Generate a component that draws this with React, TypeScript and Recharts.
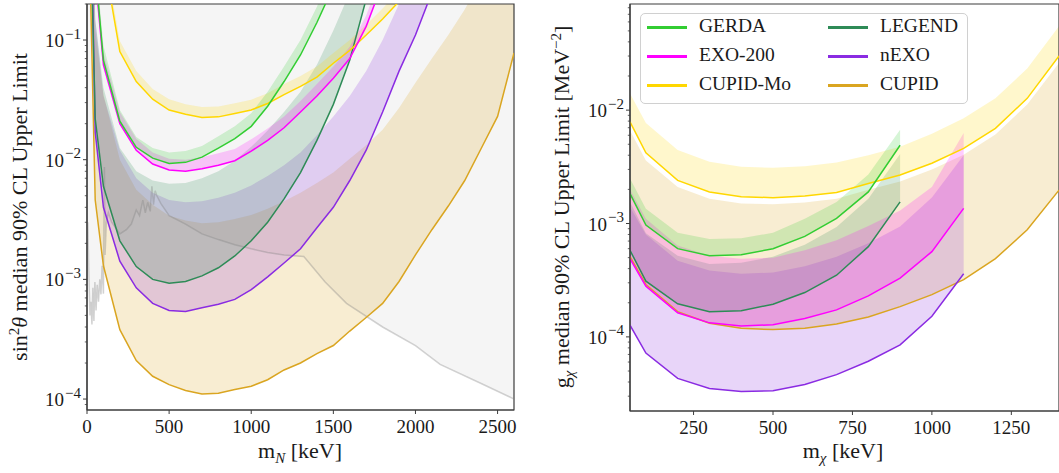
import React from "react";
import { ComposedChart, Area, Line, XAxis, YAxis, Legend, ReferenceArea } from "recharts";

const FONT = "'Liberation Serif', 'Times New Roman', serif";
const INK = "#1a1a1a";
const SPINE = "#3c3c3c";

// ---------- left panel: sin^2(theta) vs m_N [keV] ----------
const cupidMassL = [20, 50, 100, 200, 300, 400, 500, 600, 700, 800, 900, 1000, 1100, 1200, 1300, 1400, 1500, 1600, 1700, 1800, 1900, 2000, 2100, 2200, 2300, 2400, 2500, 2600];
const cupidLineL = [0.3, 4.6e-3, 1.3e-3, 3.8e-4, 2.1e-4, 1.55e-4, 1.32e-4, 1.18e-4, 1.1e-4, 1.12e-4, 1.2e-4, 1.28e-4, 1.45e-4, 1.75e-4, 2.0e-4, 2.4e-4, 2.8e-4, 3.7e-4, 4.8e-4, 6.3e-4, 9.6e-4, 1.6e-3, 2.6e-3, 4.1e-3, 6.7e-3, 1.24e-2, 2.3e-2, 7.8e-2];
const cupidUpL = [5, 0.12, 0.035, 0.01, 5.6e-3, 4.2e-3, 3.4e-3, 3.1e-3, 2.95e-3, 3.0e-3, 3.2e-3, 3.45e-3, 3.9e-3, 4.5e-3, 5.3e-3, 6.4e-3, 7.8e-3, 0.0102, 0.0132, 0.0178, 0.027, 0.044, 0.07, 0.11, 0.18, 0.32, 0.6, 2];

const nexoMassL = [30, 50, 100, 200, 300, 400, 500, 600, 700, 800, 900, 1000, 1100, 1200, 1300, 1400, 1500, 1600, 1700, 1800, 1900, 2000, 2100];
const nexoLineL = [0.5, 0.017, 4.0e-3, 1.42e-3, 8.5e-4, 6.3e-4, 5.5e-4, 5.4e-4, 5.8e-4, 6.2e-4, 6.8e-4, 8.2e-4, 1.05e-3, 1.37e-3, 1.8e-3, 2.7e-3, 4.0e-3, 6.7e-3, 0.012, 0.025, 0.055, 0.11, 0.25];
const nexoUpL = [5, 0.15, 0.034, 0.012, 7e-3, 5.3e-3, 4.6e-3, 4.4e-3, 4.5e-3, 4.8e-3, 5.3e-3, 6.1e-3, 7.3e-3, 9.0e-3, 0.0115, 0.016, 0.023, 0.034, 0.055, 0.1, 0.2, 0.4, 1];

const legendMassL = [30, 50, 100, 200, 300, 400, 500, 600, 700, 800, 900, 1000, 1100, 1200, 1300, 1400, 1500, 1600, 1700];
const legendLineL = [0.3, 0.022, 6e-3, 2.1e-3, 1.28e-3, 1.0e-3, 9.3e-4, 9.6e-4, 1.07e-3, 1.25e-3, 1.57e-3, 2.1e-3, 3.0e-3, 4.7e-3, 7.8e-3, 0.0145, 0.029, 0.068, 0.22];
const legendUpL = [3, 0.15, 0.04, 0.0125, 8e-3, 6.7e-3, 6.3e-3, 6.4e-3, 7e-3, 8e-3, 9.8e-3, 0.0128, 0.0175, 0.025, 0.037, 0.062, 0.12, 0.25, 0.8];

const gerdaMassL = [50, 100, 200, 300, 400, 500, 600, 700, 800, 900, 1000, 1100, 1200, 1300, 1400, 1500];
const gerdaLineL = [0.4, 0.068, 0.021, 0.0127, 0.0103, 9.3e-3, 9.5e-3, 0.0105, 0.0125, 0.015, 0.019, 0.028, 0.045, 0.075, 0.14, 0.28];
const gerdaUpL = [0.5, 0.09, 0.026, 0.0155, 0.0125, 0.0115, 0.0118, 0.013, 0.0157, 0.019, 0.0245, 0.037, 0.06, 0.1, 0.19, 0.4];

const exoMassL = [50, 100, 200, 300, 400, 500, 600, 700, 800, 900, 1000, 1100, 1200, 1300, 1400, 1500, 1600, 1700, 1800];
const exoLineL = [0.35, 0.062, 0.02, 0.012, 9.2e-3, 8.2e-3, 8.0e-3, 8.4e-3, 9.0e-3, 9.8e-3, 0.0118, 0.0145, 0.0185, 0.025, 0.034, 0.048, 0.07, 0.13, 0.3];
const exoUpL = [0.45, 0.078, 0.025, 0.015, 0.0115, 0.0102, 0.01, 0.0105, 0.0113, 0.0123, 0.0148, 0.0182, 0.023, 0.031, 0.043, 0.06, 0.088, 0.16, 0.38];

const cupidMoMassL = [100, 200, 300, 400, 500, 600, 700, 800, 900, 1000, 1100, 1200, 1300, 1400, 1500, 1600, 1700, 1800, 1900];
const cupidMoLineL = [0.5, 0.08, 0.045, 0.032, 0.026, 0.024, 0.0225, 0.0228, 0.0243, 0.026, 0.0295, 0.035, 0.041, 0.049, 0.064, 0.082, 0.11, 0.15, 0.21];
const cupidMoUpL = [0.6, 0.098, 0.055, 0.039, 0.032, 0.029, 0.0275, 0.0278, 0.0296, 0.0317, 0.036, 0.043, 0.05, 0.06, 0.078, 0.1, 0.134, 0.183, 0.26];

// existing limits (grey)
const greyMassL = [5, 12, 18, 24, 30, 36, 42, 48, 55, 62, 70, 78, 85, 92, 100, 106, 110, 118, 130, 150, 200, 240, 270, 300, 320, 340, 355, 370, 385, 395, 405, 415, 425, 450, 500, 600, 700, 800, 900, 1000, 1100, 1200, 1320, 1450, 1580, 1800, 2000, 2150, 2400, 2600];
const greyLimitL = [3e-3, 1e-3, 5e-4, 6.5e-4, 4.2e-4, 8.5e-4, 4.5e-4, 9.5e-4, 5.5e-4, 9e-4, 6.5e-4, 1.0e-3, 7.5e-4, 1.3e-3, 7.6e-4, 8.7e-3, 1.6e-3, 3.0e-3, 3.6e-3, 3.0e-3, 2.4e-3, 2.6e-3, 2.9e-3, 3.8e-3, 3.4e-3, 4.6e-3, 3.6e-3, 4.4e-3, 3.7e-3, 6.0e-3, 4.2e-3, 5.5e-3, 5.0e-3, 4.3e-3, 3.4e-3, 2.9e-3, 2.4e-3, 2.15e-3, 1.95e-3, 1.8e-3, 1.68e-3, 1.6e-3, 1.55e-3, 9.5e-4, 6.3e-4, 4.0e-4, 2.8e-4, 1.95e-4, 1.35e-4, 1.0e-4];

// ---------- right panel: g_chi vs m_chi [keV] ----------
const massR = [50, 100, 200, 300, 400, 500, 600, 700, 800, 900, 1000, 1100, 1200, 1300, 1400];
const cupidMoLineR = [7.9e-3, 4.2e-3, 2.4e-3, 1.9e-3, 1.72e-3, 1.69e-3, 1.75e-3, 1.88e-3, 2.25e-3, 2.68e-3, 3.4e-3, 4.6e-3, 6.9e-3, 0.0127, 0.03];
const cupidMoUpR = [0.014, 7.7e-3, 4.45e-3, 3.5e-3, 3.16e-3, 3.1e-3, 3.2e-3, 3.45e-3, 4e-3, 4.75e-3, 6.2e-3, 8.5e-3, 0.0127, 0.0233, 0.055];
const cupidLineR = [5.1e-4, 2.9e-4, 1.67e-4, 1.32e-4, 1.19e-4, 1.16e-4, 1.19e-4, 1.3e-4, 1.5e-4, 1.85e-4, 2.36e-4, 3.2e-4, 4.9e-4, 8.8e-4, 1.97e-3];
const cupidUpR = [6.6e-3, 3.6e-3, 2.1e-3, 1.65e-3, 1.5e-3, 1.48e-3, 1.53e-3, 1.65e-3, 1.98e-3, 2.35e-3, 3.0e-3, 4.05e-3, 6.1e-3, 0.0112, 0.026];
const gerdaLineR = [1.84e-3, 9.7e-4, 6.0e-4, 5.2e-4, 5.3e-4, 6.0e-4, 7.7e-4, 1.11e-3, 1.9e-3, 4.9e-3];
const gerdaUpR = [2.5e-3, 1.35e-3, 8.3e-4, 7.3e-4, 7.4e-4, 8.3e-4, 1.1e-3, 1.55e-3, 2.7e-3, 6.7e-3];
const legendLineR = [5.8e-4, 3.1e-4, 1.96e-4, 1.67e-4, 1.7e-4, 1.94e-4, 2.46e-4, 3.5e-4, 6.25e-4, 1.55e-3];
const legendUpR = [1.55e-3, 8.2e-4, 5.2e-4, 4.4e-4, 4.5e-4, 5.1e-4, 6.5e-4, 9.3e-4, 1.65e-3, 4.1e-3];
const exoLineR = [4.9e-4, 2.8e-4, 1.63e-4, 1.33e-4, 1.25e-4, 1.28e-4, 1.45e-4, 1.73e-4, 2.3e-4, 3.3e-4, 5.65e-4, 1.36e-3];
const exoUpR = [2.0e-3, 1.1e-3, 6.4e-4, 5.2e-4, 4.9e-4, 5.0e-4, 5.8e-4, 7.1e-4, 9.5e-4, 1.3e-3, 2.1e-3, 6.3e-3];
const nexoLineR = [1.27e-4, 7.2e-5, 4.3e-5, 3.5e-5, 3.3e-5, 3.35e-5, 3.8e-5, 4.65e-5, 6.1e-5, 8.5e-5, 1.52e-4, 3.6e-4];
const nexoUpR = [1.4e-3, 8e-4, 4.7e-4, 3.85e-4, 3.6e-4, 3.7e-4, 4.2e-4, 5.1e-4, 6.7e-4, 9.4e-4, 1.7e-3, 4.0e-3];

// axes
const xDomainL: [number, number] = [0, 2600];
const xDomainR: [number, number] = [50, 1400];
const xTicksL = [0, 500, 1000, 1500, 2000, 2500];
const xTicksR = [250, 500, 750, 1000, 1250];
const yDomainL: [number, number] = [8.1e-5, 0.2];
const yDomainR: [number, number] = [2.22e-5, 0.0863];
const decades = [-5, -4, -3, -2, -1];
const mantissas = [1, 2, 3, 4, 5, 6, 7, 8, 9];

const COLORS = {
  GERDA: "#32CD32",
  LEGEND: "#2E8B57",
  "EXO-200": "#FF00FF",
  nEXO: "#8A2BE2",
  "CUPID-Mo": "#FFD700",
  CUPID: "#DAA520",
} as Record<string, string>;

const rows = (mass: number[], line: number[], up: number[]) =>
  line.map((y, i) => ({ x: mass[i], y, band: [y, up[i]] }));

const logTicks = (domain: [number, number]) =>
  decades
    .flatMap((e) => mantissas.map((k) => k * Math.pow(10, e)))
    .filter((v) => v >= domain[0] && v <= domain[1]);

const seriesL = [
  { name: "CUPID", data: rows(cupidMassL, cupidLineL, cupidUpL) },
  { name: "nEXO", data: rows(nexoMassL, nexoLineL, nexoUpL) },
  { name: "LEGEND", data: rows(legendMassL, legendLineL, legendUpL) },
  { name: "CUPID-Mo", data: rows(cupidMoMassL, cupidMoLineL, cupidMoUpL) },
  { name: "EXO-200", data: rows(exoMassL, exoLineL, exoUpL) },
  { name: "GERDA", data: rows(gerdaMassL, gerdaLineL, gerdaUpL) },
];

const seriesR = [
  { name: "CUPID", data: rows(massR, cupidLineR, cupidUpR) },
  { name: "nEXO", data: rows(massR, nexoLineR, nexoUpR) },
  { name: "LEGEND", data: rows(massR, legendLineR, legendUpR) },
  { name: "EXO-200", data: rows(massR, exoLineR, exoUpR) },
  { name: "CUPID-Mo", data: rows(massR, cupidMoLineR, cupidMoUpR) },
  { name: "GERDA", data: rows(massR, gerdaLineR, gerdaUpR) },
];

const greyData = greyMassL.map((x, i) => ({ x, y: greyLimitL[i], band: [greyLimitL[i], 10] }));

const legendOrder = ["GERDA", "EXO-200", "CUPID-Mo", "LEGEND", "nEXO", "CUPID"];

const LogTick = (props: any) => {
  const { x, y, payload } = props;
  const lg = Math.log10(payload.value);
  const e = Math.round(lg);
  const major = Math.abs(lg - e) < 1e-6;
  return (
    <g>
      <line x1={x - (major ? 4 : 2.2)} x2={x} y1={y} y2={y} stroke={SPINE} strokeWidth={major ? 1 : 0.8} />
      {major && (
        <text x={x - 6} y={y + 7} textAnchor="end" fontFamily={FONT} fontSize={19} fill={INK}>
          10<tspan dx={1} dy={-8.5} fontSize={15}>{"\u2212" + -e}</tspan>
        </text>
      )}
    </g>
  );
};

const XTick = (props: any) => {
  const { x, y, payload } = props;
  return (
    <g>
      <line x1={x} x2={x} y1={y} y2={y + 4} stroke={SPINE} strokeWidth={1} />
      <text x={x} y={y + 23} textAnchor="middle" fontFamily={FONT} fontSize={19} fill={INK}>
        {payload.value}
      </text>
    </g>
  );
};

const title = { fontFamily: FONT, fontSize: 22, fill: INK };

const LegendBox = () => (
  <div
    style={{
      position: "relative",
      width: 328,
      height: 91,
      border: "1px solid #d0d0d0",
      borderRadius: 5,
      background: "rgba(255,255,255,0.8)",
      boxSizing: "border-box",
      fontFamily: FONT,
      fontSize: 19.5,
      color: INK,
    }}
  >
    {legendOrder.map((name, i) => {
      const col = Math.floor(i / 3);
      const cy = 13 + (i % 3) * 29;
      const lx = col === 0 ? 6 : 187;
      return (
        <React.Fragment key={name}>
          <div style={{ position: "absolute", left: lx, top: cy - 1.5, width: 40, height: 3, background: COLORS[name] }} />
          <span style={{ position: "absolute", left: lx + 52, top: cy - 11, lineHeight: "20px", whiteSpace: "nowrap" }}>{name}</span>
        </React.Fragment>
      );
    })}
  </div>
);

const App: React.FC = () => {
  return (
    <div style={{ position: "absolute", left: 0, top: 0, width: 1059, height: 473, background: "#fff" }}>
      <div style={{ position: "absolute", left: 0, top: 0 }}>
        <ComposedChart width={530} height={473} margin={{ top: 4, right: 16, bottom: 0, left: 0 }}>
          <XAxis
            type="number"
            dataKey="x"
            domain={xDomainL}
            allowDataOverflow
            ticks={xTicksL}
            interval={0}
            tick={(p: any) => <XTick {...p} />}
            tickLine={false}
            tickSize={0}
            tickMargin={0}
            height={63}
            axisLine={{ stroke: SPINE, strokeWidth: 1.2 }}
            label={{
              content: () => (
                <text x={300} y={458} textAnchor="middle" {...title}>
                  m<tspan dy={5} fontSize={15} fontStyle="italic">N</tspan>
                  <tspan dy={-5}> [keV]</tspan>
                </text>
              ),
            }}
          />
          <YAxis
            scale="log"
            type="number"
            domain={yDomainL}
            allowDataOverflow
            ticks={logTicks(yDomainL)}
            interval={0}
            tick={(p: any) => <LogTick {...p} />}
            tickLine={false}
            tickSize={0}
            tickMargin={0}
            width={87}
            axisLine={{ stroke: SPINE, strokeWidth: 1.2 }}
            label={{
              content: () => (
                <text transform="translate(27,207) rotate(-90)" textAnchor="middle" {...title}>
                  sin<tspan dy={-8} fontSize={15}>2</tspan>
                  <tspan dy={8} fontStyle="italic">θ</tspan>
                  <tspan> median 90% CL Upper Limit</tspan>
                </text>
              ),
            }}
          />
          <Area data={greyData} dataKey="band" type="linear" fill="#cccccc" fillOpacity={0.2} stroke="none" activeDot={false} isAnimationActive={false} />
          {seriesL.map((s) => (
            <Area key={"band-" + s.name} data={s.data} dataKey="band" type="linear" fill={COLORS[s.name]} fillOpacity={0.2} stroke="none" activeDot={false} isAnimationActive={false} />
          ))}
          <Line data={greyData} dataKey="y" type="linear" stroke="#808080" strokeOpacity={0.35} strokeWidth={1.5} dot={false} activeDot={false} isAnimationActive={false} />
          {seriesL.map((s) => (
            <Line key={"line-" + s.name} data={s.data} dataKey="y" type="linear" stroke={COLORS[s.name]} strokeWidth={1.5} dot={false} activeDot={false} isAnimationActive={false} />
          ))}
          <ReferenceArea x1={xDomainL[0]} x2={xDomainL[1]} y1={yDomainL[0]} y2={yDomainL[1]} fill="#ffffff" fillOpacity={0} stroke={SPINE} strokeWidth={1.2} ifOverflow="visible" />
        </ComposedChart>
      </div>
      <div style={{ position: "absolute", left: 530, top: 0 }}>
        <ComposedChart width={529} height={473} margin={{ top: 4, right: 0, bottom: 0, left: 0 }}>
          <XAxis
            type="number"
            dataKey="x"
            domain={xDomainR}
            allowDataOverflow
            ticks={xTicksR}
            interval={0}
            tick={(p: any) => <XTick {...p} />}
            tickLine={false}
            tickSize={0}
            tickMargin={0}
            height={62}
            axisLine={{ stroke: SPINE, strokeWidth: 1.2 }}
            label={{
              content: () => (
                <text x={313} y={458} textAnchor="middle" {...title}>
                  m<tspan dy={5} fontSize={15} fontStyle="italic">χ</tspan>
                  <tspan dy={-5}> [keV]</tspan>
                </text>
              ),
            }}
          />
          <YAxis
            scale="log"
            type="number"
            domain={yDomainR}
            allowDataOverflow
            ticks={logTicks(yDomainR)}
            interval={0}
            tick={(p: any) => <LogTick {...p} />}
            tickLine={false}
            tickSize={0}
            tickMargin={0}
            width={100}
            axisLine={{ stroke: SPINE, strokeWidth: 1.2 }}
            label={{
              content: () => (
                <text transform="translate(39,207) rotate(-90)" textAnchor="middle" {...title}>
                  g<tspan dy={5} fontSize={15} fontStyle="italic">χ</tspan>
                  <tspan dy={-5}> median 90% CL Upper Limit [MeV</tspan>
                  <tspan dy={-8} fontSize={15}>{"\u22122"}</tspan>
                  <tspan dy={8}>]</tspan>
                </text>
              ),
            }}
          />
          {seriesR.map((s) => (
            <Area key={"band-" + s.name} data={s.data} dataKey="band" type="linear" fill={COLORS[s.name]} fillOpacity={0.2} stroke="none" activeDot={false} isAnimationActive={false} />
          ))}
          {seriesR.map((s) => (
            <Line key={"line-" + s.name} data={s.data} dataKey="y" type="linear" stroke={COLORS[s.name]} strokeWidth={1.5} dot={false} activeDot={false} isAnimationActive={false} />
          ))}
          <ReferenceArea x1={xDomainR[0]} x2={xDomainR[1]} y1={yDomainR[0]} y2={yDomainR[1]} fill="#ffffff" fillOpacity={0} stroke={SPINE} strokeWidth={1.2} ifOverflow="visible" />
          <Legend
            layout="horizontal"
            verticalAlign="middle"
            align="center"
            wrapperStyle={{ left: 110, top: 13, width: 328, height: 91 }}
            content={() => <LegendBox />}
          />
        </ComposedChart>
      </div>
    </div>
  );
};

export default App;
